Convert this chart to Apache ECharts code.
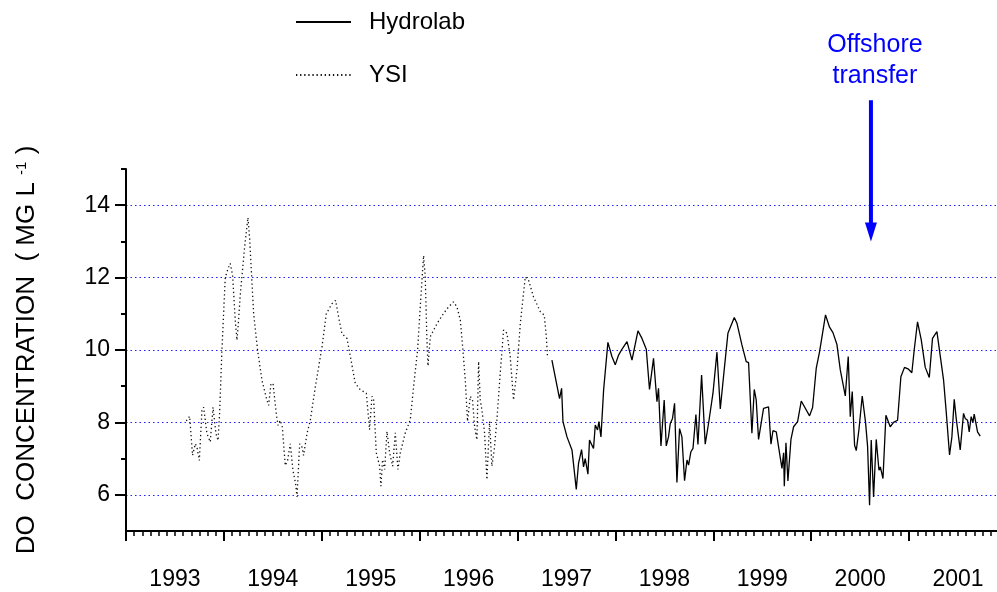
<!DOCTYPE html>
<html>
<head>
<meta charset="utf-8">
<script src="https://cdn.jsdelivr.net/npm/echarts@6/dist/echarts.min.js"></script>
<style>html,body{margin:0;padding:0;background:#fff}#c{width:997px;height:592px}</style>
</head>
<body>
<div id="c"></div>
<script>
// ---- data (decimal year, DO mg/L) ----
const yearLabels = ['1993','1994','1995','1996','1997','1998','1999','2000','2001'];
const yTickValues = [6, 8, 10, 12, 14];
const yMinorTickValues = [7, 9, 11, 13, 15];

const ysiYears = [1993.616,1993.650,1993.680,1993.708,1993.725,1993.749,1993.776,1993.793,1993.827,1993.861,1993.889,1993.905,1993.919,1993.940,1993.956,1993.980,
1994.014,1994.042,1994.065,1994.089,1994.116,1994.134,1994.150,1994.168,1994.212,1994.246,1994.263,1994.304,1994.344,1994.389,1994.440,1994.457,1994.481,1994.502,1994.535,1994.553,1994.576,1994.597,1994.627,1994.651,1994.678,1994.706,1994.733,1994.747,1994.774,1994.798,1994.814,1994.849,1994.883,1994.934,1994.968,
1995.002,1995.046,1995.104,1995.141,1995.172,1995.206,1995.258,1995.342,1995.393,1995.455,1995.488,1995.513,1995.530,1995.557,1995.591,1995.604,1995.621,1995.642,1995.666,1995.693,1995.724,1995.751,1995.778,1995.802,1995.853,1995.904,1995.945,1995.979,
1996.006,1996.040,1996.057,1996.074,1996.085,1996.109,1996.177,1996.244,1996.295,1996.346,1996.381,1996.415,1996.442,1996.466,1996.489,1996.517,1996.540,1996.561,1996.585,1996.602,1996.619,1996.636,1996.663,1996.687,1996.714,1996.738,1996.762,1996.789,1996.823,1996.857,1996.892,1996.925,1996.959,1996.994,
1997.028,1997.079,1997.112,1997.163,1997.232,1997.273,1997.294,1997.307];
const ysiValues = [8.04,8.17,7.09,7.41,7.32,6.95,8.33,8.42,7.69,7.46,8.42,8.47,7.69,7.50,8.24,10.00,
12.0,12.25,12.39,12.06,10.82,10.27,10.82,11.55,12.85,13.66,13.08,11.00,10.00,9.16,8.61,8.47,9.07,9.07,8.24,7.92,8.06,7.87,6.81,6.95,7.41,6.67,6.30,5.94,7.41,7.32,7.09,7.69,8.06,8.98,9.53,
10.08,11.00,11.28,11.37,10.91,10.45,10.32,9.08,8.90,8.81,7.80,8.72,8.62,7.16,6.79,6.24,6.97,6.70,7.75,7.16,6.79,7.71,6.70,7.16,7.71,8.07,9.17,10.00,
11.19,12.61,12.02,10.28,9.56,10.37,10.73,11.01,11.19,11.33,11.19,10.83,10.00,9.17,8.03,8.72,8.62,7.89,7.52,9.68,8.62,8.35,7.71,6.42,8.03,6.79,7.25,8.07,9.36,10.55,10.46,9.82,8.62,9.45,
10.73,12.02,11.93,11.47,11.06,10.96,10.37,9.77];

const hydroYears = [1997.351,1997.429,1997.450,1997.464,1997.505,1997.556,1997.600,1997.623,1997.654,1997.674,1997.691,1997.719,1997.735,1997.776,1997.794,1997.817,1997.831,1997.852,1997.879,1997.923,1997.964,1997.998,
1998.032,1998.066,1998.118,1998.169,1998.230,1998.271,1998.315,1998.348,1998.389,1998.424,1998.440,1998.465,1998.498,1998.519,1998.542,1998.560,1998.583,1998.604,1998.628,1998.655,1998.679,1998.706,1998.731,1998.747,1998.771,1998.792,1998.822,1998.843,1998.880,1998.917,1998.951,1998.996,
1999.037,1999.071,1999.111,1999.149,1999.214,1999.241,1999.292,1999.336,1999.360,1999.394,1999.418,1999.438,1999.462,1999.513,1999.564,1999.589,1999.609,1999.643,1999.674,1999.701,1999.718,1999.725,1999.742,1999.762,1999.793,1999.820,1999.861,1999.898,1999.983,
2000.014,2000.051,2000.085,2000.146,2000.187,2000.222,2000.262,2000.297,2000.348,2000.378,2000.399,2000.419,2000.443,2000.460,2000.487,2000.521,2000.555,2000.576,2000.596,2000.613,2000.637,2000.664,2000.692,2000.706,2000.733,2000.746,2000.763,2000.807,2000.841,2000.882,2000.916,2000.953,2000.994,
2001.028,2001.052,2001.086,2001.124,2001.165,2001.206,2001.239,2001.284,2001.352,2001.379,2001.413,2001.437,2001.461,2001.481,2001.522,2001.556,2001.573,2001.597,2001.614,2001.634,2001.652,2001.665,2001.699,2001.726];
const hydroValues = [9.72,8.66,8.94,8.02,7.60,7.24,6.15,6.87,7.25,6.77,7.00,6.57,7.51,7.28,7.93,7.79,8.02,7.60,8.89,10.21,9.82,9.59,
9.86,10.02,10.23,9.72,10.53,10.32,10.02,8.91,9.77,8.57,8.94,7.35,8.62,7.35,7.60,7.97,8.11,8.53,6.34,7.83,7.60,6.39,6.96,6.82,7.19,7.28,8.22,7.39,9.31,7.40,7.97,8.80,
9.94,8.37,9.45,10.46,10.90,10.74,10.14,9.68,9.65,7.70,8.91,8.62,7.53,8.39,8.43,7.40,7.77,7.74,7.19,6.73,7.16,6.24,7.44,6.38,7.53,7.88,8.02,8.59,8.18,
8.41,9.49,9.95,10.97,10.63,10.48,10.16,9.45,8.73,9.82,8.16,8.85,7.37,7.22,7.79,8.73,8.00,7.33,5.71,7.51,5.94,7.53,6.68,6.77,6.45,6.48,8.20,7.88,8.00,8.06,9.26,9.52,9.47,
9.37,10.00,10.78,10.28,9.52,9.24,10.32,10.51,9.17,8.29,7.10,7.60,8.64,8.11,7.24,8.25,8.11,8.06,7.74,8.16,8.00,8.23,7.74,7.62];

// annotation: offshore transfer
const transferYear = 2000.61;
const arrowTopValue = 16.9;
const arrowTipValue = 13.0;
const transferText = 'Offshore\ntransfer';

const FONT = 'Liberation Sans, Arial, sans-serif';
const zip = (xs, ys) => xs.map((x, i) => [x, ys[i]]);

const chart = echarts.init(document.getElementById('c'), null, {renderer: 'canvas'});
chart.setOption({
  animation: false,
  backgroundColor: '#fff',
  grid: { left: 126, right: -10, top: 169, bottom: 61, outerBoundsMode: 'none', containLabel: false },
  legend: {
    orient: 'vertical', left: 295, top: 10, padding: 0,
    itemWidth: 55, itemHeight: 14, itemGap: 29,
    itemStyle: { opacity: 0 },
    textStyle: { fontFamily: FONT, fontSize: 24, color: '#000', lineHeight: 24, padding: [0,0,0,13] },
    data: ['Hydrolab', 'YSI']
  },
  xAxis: [
    {
      type: 'value', min: 1993, max: 2002, interval: 1, position: 'bottom',
      axisLine: { show: true, onZero: false, lineStyle: { color: '#000', width: 2 } },
      axisTick: { show: true, length: 10, lineStyle: { color: '#000', width: 2 } },
      minorTick: { show: true, splitNumber: 12, length: 5, lineStyle: { color: '#000', width: 1.5 } },
      axisLabel: { show: false },
      splitLine: { show: false }
    },
    {
      type: 'category', data: yearLabels, boundaryGap: true, position: 'bottom',
      axisLine: { show: false }, axisTick: { show: false }, splitLine: { show: false },
      axisLabel: { show: true, interval: 0, margin: 37, fontFamily: FONT, fontSize: 23, color: '#000' }
    }
  ],
  yAxis: [
    {
      type: 'value', min: 5, max: 15, position: 'left',
      name: '{a|DO  CONCENTRATION  ( MG L }{s|-1}{a| )}',
      nameLocation: 'middle', nameGap: 86, nameRotate: 90,
      nameTextStyle: {
        rich: {
          a: { fontFamily: FONT, fontSize: 26, color: '#000' },
          s: { fontFamily: FONT, fontSize: 15, color: '#000', verticalAlign: 'top' }
        }
      },
      axisLine: { show: true, onZero: false, lineStyle: { color: '#000', width: 2 } },
      axisTick: { show: true, customValues: yTickValues, length: 11, lineStyle: { color: '#000', width: 2 } },
      axisLabel: { show: true, customValues: yTickValues, margin: 16, fontFamily: FONT, fontSize: 23, color: '#000' },
      splitLine: { show: true, lineStyle: { color: '#1f1fff', width: 1, type: [1.5, 3] } }
    },
    {
      type: 'value', min: 5, max: 15, interval: 1, position: 'left',
      axisLine: { show: false },
      axisTick: { show: true, customValues: yMinorTickValues, length: 5, lineStyle: { color: '#000', width: 2 } },
      axisLabel: { show: false },
      splitLine: { show: false }
    }
  ],
  series: [
    {
      name: 'Hydrolab', type: 'line', xAxisIndex: 0, yAxisIndex: 0,
      data: zip(hydroYears, hydroValues), symbol: 'none', showSymbol: false,
      lineStyle: { color: '#000', width: 1.3, type: 'solid' }, itemStyle: { color: '#000' }
    },
    {
      name: 'YSI', type: 'line', xAxisIndex: 0, yAxisIndex: 0,
      data: zip(ysiYears, ysiValues), symbol: 'none', showSymbol: false,
      lineStyle: { color: '#111', width: 1.3, type: [1.3, 2.8] }, itemStyle: { color: '#111' }
    }
  ]
});

// arrow + text placed from the chart's own scales
const pTop = chart.convertToPixel({ xAxisIndex: 0, yAxisIndex: 0 }, [transferYear, arrowTopValue]);
const pTip = chart.convertToPixel({ xAxisIndex: 0, yAxisIndex: 0 }, [transferYear, arrowTipValue]);
const headLen = 19, headHalf = 6;
chart.setOption({
  graphic: [
    { type: 'line', shape: { x1: pTop[0], y1: pTop[1], x2: pTip[0], y2: pTip[1] - headLen + 2 },
      style: { stroke: '#0000ff', lineWidth: 4 } },
    { type: 'polygon', shape: { points: [[pTip[0] - headHalf, pTip[1] - headLen], [pTip[0] + headHalf, pTip[1] - headLen], [pTip[0], pTip[1]]] },
      style: { fill: '#0000ff' } },
    { type: 'text', x: pTop[0] + 4, y: pTop[1] - 9,
      style: { text: transferText, fill: '#0000ff', fontFamily: FONT, fontSize: 25, lineHeight: 31, align: 'center', verticalAlign: 'bottom' } }
  ]
});
</script>
</body>
</html>
